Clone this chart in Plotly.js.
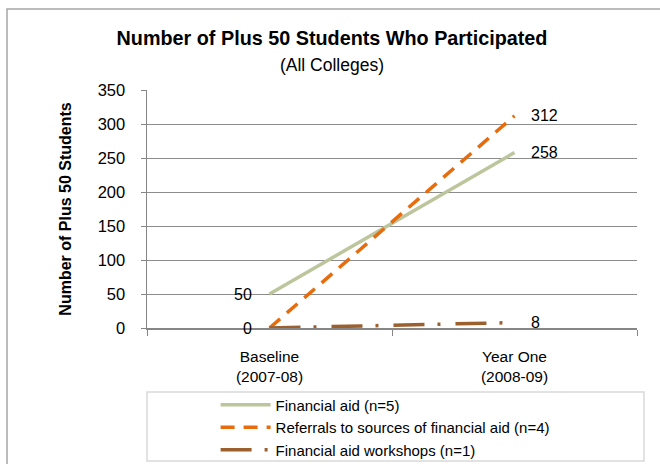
<!DOCTYPE html>
<html>
<head>
<meta charset="utf-8">
<script src="https://cdn.plot.ly/plotly-3.0.1.min.js"></script>
<style>html,body{margin:0;padding:0;background:#fff;}#chart{width:660px;height:464px;}</style>
</head>
<body>
<div id="chart"></div>
<script>
const categories = ["Baseline<br>(2007-08)", "Year One<br>(2008-09)"];
const financialAid = [50, 258];
const referrals = [0, 312];
const workshops = [0, 8];
const seriesNames = ["Financial aid (n=5)", "Referrals to sources of financial aid (n=4)", "Financial aid workshops (n=1)"];
const yTicks = [0, 50, 100, 150, 200, 250, 300, 350];

const FONT = "'Liberation Sans', Arial, sans-serif";
const colors = ["#BCC59B", "#E66C0E", "#9C5F2E"];
const dashes = ["solid", "14px,9px", "31px,13px,3px,15px"];
const series = [financialAid, referrals, workshops];

const traces = series.map((vals, i) => ({
  type: "scatter",
  mode: "lines",
  x: categories,
  y: vals,
  name: seriesNames[i],
  line: {color: colors[i], width: 3.5, dash: dashes[i]},
  hoverinfo: "skip"
}));

const annotations = [];
const seen = new Set();
series.forEach((vals, i) => {
  vals.forEach((v, j) => {
    const key = j + ":" + v;
    if (seen.has(key)) return;   // identical label at identical spot is drawn once
    seen.add(key);
    annotations.push({
      x: categories[j], y: v, xref: "x", yref: "y",
      text: String(v), showarrow: false,
      xanchor: j === 0 ? "right" : "left",
      xshift: j === 0 ? -16 : 14,
      font: {family: FONT, size: 16, color: "#000"}
    });
  });
});

const layout = {
  width: 660, height: 464,
  margin: {l: 147, r: 23, t: 90, b: 136, autoexpand: false},
  paper_bgcolor: "#fff", plot_bgcolor: "#fff",
  font: {family: FONT, size: 15, color: "#000"},
  title: {
    text: "<b>Number of Plus 50 Students Who Participated</b><br><span style='font-size:17.5px'>(All Colleges)</span>",
    font: {family: FONT, size: 19.8, color: "#000"},
    xref: "container", x: 0.503, yref: "container", y: 0.903, yanchor: "middle"
  },
  xaxis: {
    type: "category",
    range: [-0.5, 1.5],
    tickson: "boundaries",
    ticks: "outside", ticklen: 6, tickcolor: "#868686",
    ticklabelstandoff: 13,
    showline: true, linecolor: "#868686", linewidth: 2,
    showgrid: false, zeroline: false,
    tickfont: {family: FONT, size: 15.5, color: "#000"},
    fixedrange: true
  },
  yaxis: {
    range: [0, 350],
    tickvals: yTicks,
    ticktext: yTicks.map(String),
    ticks: "outside", ticklen: 5, tickcolor: "#868686",
    ticklabelstandoff: 12,
    showline: true, linecolor: "#868686", linewidth: 1.5,
    showgrid: true, gridcolor: "#8C8C8C", gridwidth: 1,
    zeroline: false,
    tickfont: {family: FONT, size: 16.5, color: "#000"},
    title: {text: "<b>Number of Plus 50 Students</b>", font: {family: FONT, size: 16, color: "#000"}, standoff: 22},
    fixedrange: true
  },
  showlegend: true,
  legend: {
    x: 0.140, xanchor: "left",
    y: -0.254, yanchor: "top",
    bgcolor: "rgba(0,0,0,0)",
    font: {family: FONT, size: 15, color: "#000"},
    itemwidth: 50,
    tracegroupgap: 0
  },
  annotations: annotations,
  shapes: [
    {type: "rect", xref: "paper", yref: "paper", x0: -0.2857, x1: 1.06, y0: -0.60, y1: 1.340,
     line: {color: "#A6A6A6", width: 1.5}, fillcolor: "rgba(0,0,0,0)", layer: "below"},
    {type: "rect", xref: "paper", yref: "paper", x0: 0, x1: 1.0143, y0: -0.5588, y1: -0.2689,
     line: {color: "#D9D9D9", width: 1.5}, fillcolor: "rgba(0,0,0,0)", layer: "below"}
  ]
};

Plotly.newPlot("chart", traces, layout, {displayModeBar: false, staticPlot: true});
</script>
</body>
</html>
